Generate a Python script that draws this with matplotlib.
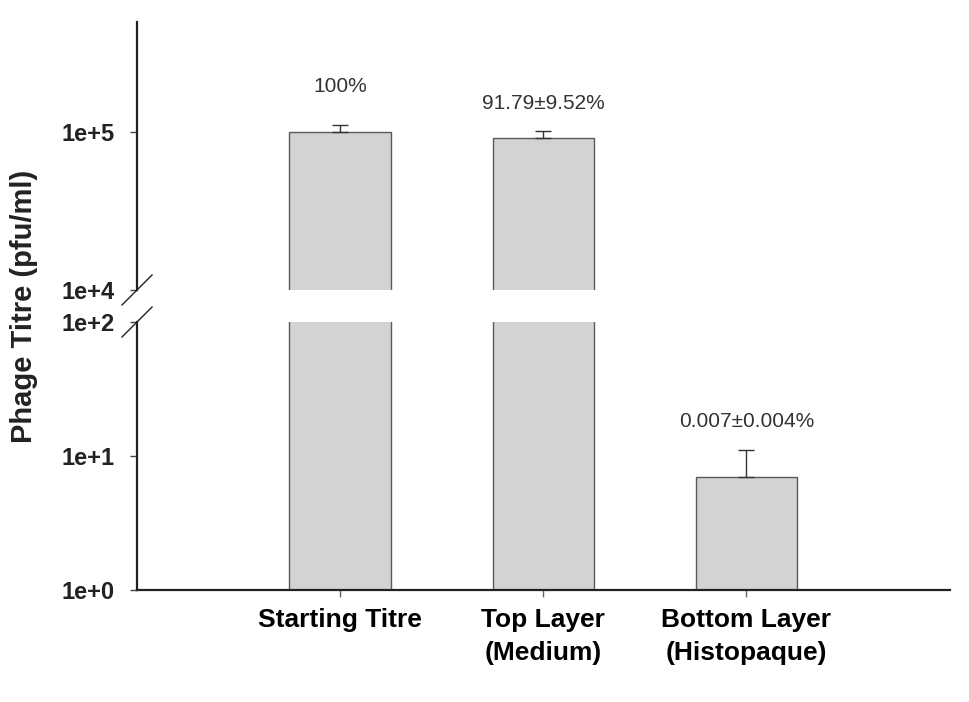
import numpy as np
import matplotlib.pyplot as plt

plt.rcParams['font.family'] = ['Liberation Sans', 'DejaVu Sans']

# phage titre per fraction (pfu/ml) with upper SD
groups = ['Starting Titre', 'Top Layer\n(Medium)', 'Bottom Layer\n(Histopaque)']
titre = [1.0e5, 9.179e4, 7.0]
titre_sd = [1.1e4, 9.52e3, 4.0]
pct_labels = ['100%', '91.79±9.52%', '0.007±0.004%']

# broken log axis: lower and upper segments
low_ticks = [1, 10, 100]
low_ticklabels = ['1e+0', '1e+1', '1e+2']
high_ticks = [1e4, 1e5]
high_ticklabels = ['1e+4', '1e+5']

x = np.arange(len(groups))

fig = plt.figure(figsize=(9.69, 7.02), dpi=100)
ax_hi = fig.add_axes([0.1414, 0.5869, 0.8386, 0.3818])
ax_lo = fig.add_axes([0.1414, 0.1595, 0.8386, 0.3818])

bar_kw = dict(width=0.5, color='#d3d3d3', edgecolor='#5a5a5a', linewidth=1.0, bottom=1)
err_kw = dict(fmt='none', ecolor='#333333', elinewidth=1.0, capsize=6, capthick=1.0)
yerr = [np.zeros(len(titre)), np.array(titre_sd)]

for ax in (ax_hi, ax_lo):
    ax.set_yscale('log')
    ax.bar(x, np.array(titre) - 1, **bar_kw)
    ax.errorbar(x, titre, yerr=yerr, **err_kw)
    ax.set_xlim(-1, 3)
    ax.spines['top'].set_visible(False)
    ax.spines['right'].set_visible(False)
    ax.spines['left'].set_linewidth(1.6)
    ax.spines['left'].set_color('#222222')
    ax.minorticks_off()
    ax.tick_params(axis='y', length=5, width=1, color='#444444', pad=11)

ax_hi.set_ylim(1e4, 5e5)
ax_hi.set_yticks(high_ticks)
ax_hi.set_yticklabels(high_ticklabels, fontsize=17, fontweight='bold', color='#222222')
ax_hi.spines['bottom'].set_visible(False)
ax_hi.tick_params(axis='x', bottom=False, labelbottom=False)

ax_lo.set_ylim(1, 100)
ax_lo.set_yticks(low_ticks)
ax_lo.set_yticklabels(low_ticklabels, fontsize=17, fontweight='bold', color='#222222')
ax_lo.spines['bottom'].set_linewidth(1.6)
ax_lo.spines['bottom'].set_color('#222222')
ax_lo.set_xticks(x)
ax_lo.set_xticklabels(groups, fontsize=19, fontweight='bold', linespacing=1.45)
ax_lo.tick_params(axis='x', length=5, width=1, color='#666666', pad=8)

# percentage labels above the error caps
label_pad = [28, 20, 21]
for xi, v, sd, txt, pad in zip(x, titre, titre_sd, pct_labels, label_pad):
    ax = ax_hi if v > 1e3 else ax_lo
    ax.annotate(txt, (xi, v + sd), xytext=(0, pad), textcoords='offset points',
                ha='center', va='center', fontsize=15, color='#333333')

# diagonal break marks on the y axis
dx, dy = 0.0185, 0.056
brk = dict(color='#222222', linewidth=1.0, clip_on=False)
ax_hi.plot([-dx, dx], [-dy, dy], transform=ax_hi.transAxes, **brk)
ax_lo.plot([-dx, dx], [1 - dy, 1 + dy], transform=ax_lo.transAxes, **brk)

fig.text(0.025, 0.564, 'Phage Titre (pfu/ml)', rotation=90, ha='center', va='center',
         fontsize=21, fontweight='bold', color='#222222')

fig.savefig('out.png', dpi=100, facecolor='white')
